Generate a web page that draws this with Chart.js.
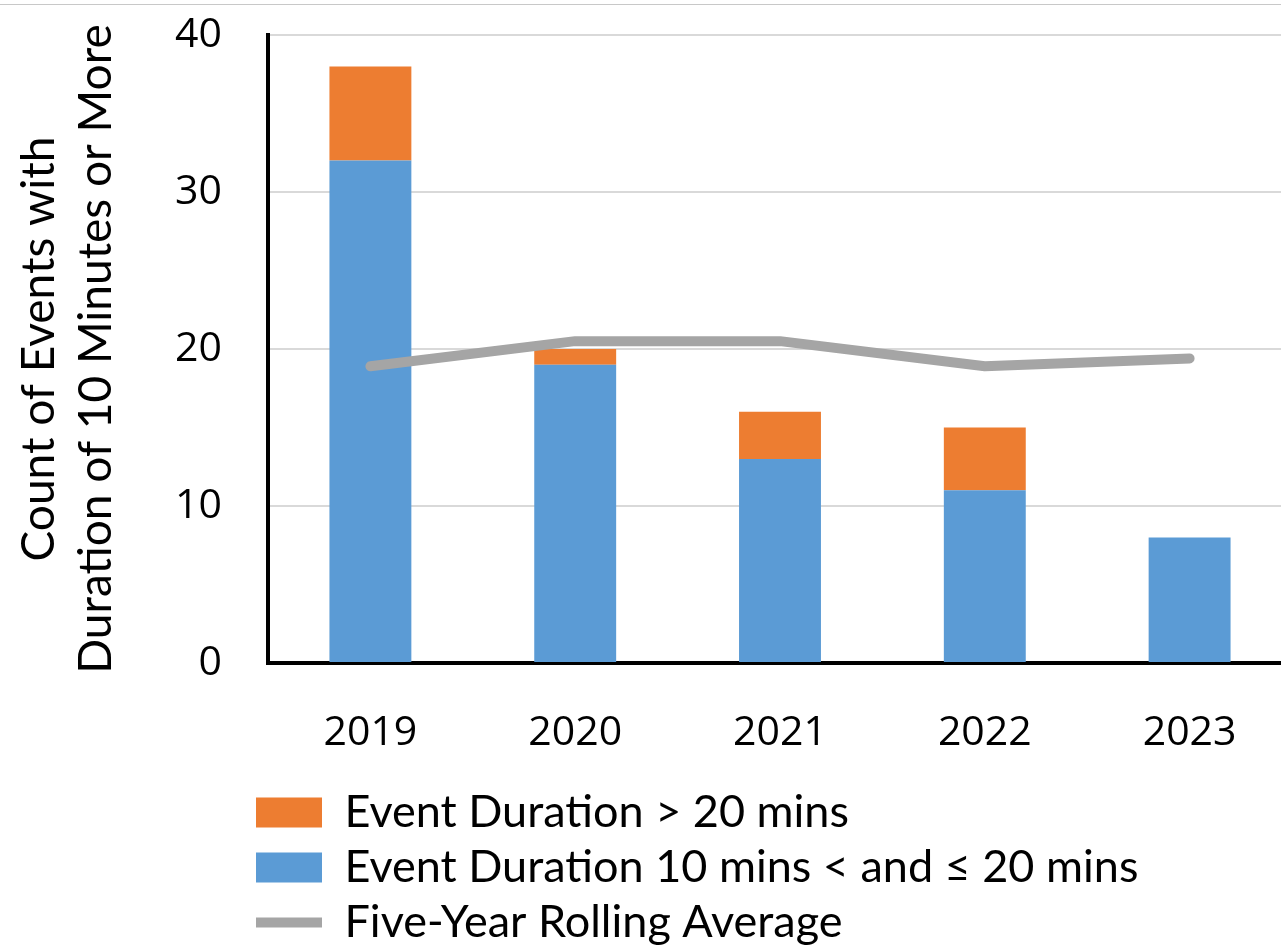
<!DOCTYPE html>
<html>
<head>
<meta charset="utf-8">
<script src="https://cdn.jsdelivr.net/npm/chart.js@4.4.0/dist/chart.umd.min.js"></script>
<style>
  html, body { margin: 0; padding: 0; background: #fff; overflow: hidden; }
  #frame { position: absolute; left: 0; top: 4px; width: 1281px; height: 1px; background: #c8c8c8; }
  #myChart { position: absolute; left: 0; top: 0; }
</style>
</head>
<body>
<canvas id="myChart" width="1292" height="955"></canvas>
<div id="frame"></div>
<script>
// data
const years = ['2019', '2020', '2021', '2022', '2023'];
const shortEvents = [32, 19, 13, 11, 8];   // 10 mins < and <= 20 mins
const longEvents = [6, 1, 3, 4, 0];        // > 20 mins
const rollingAvg = [18.9, 20.5, 20.5, 18.9, 19.4];
const yTicks = [0, 10, 20, 30, 40];

const tickFont = {family: 'Open Sans', size: 41};
const labelFont = {family: 'Lato', size: 45};

var ctx = document.getElementById('myChart').getContext('2d');

// move the legend so it starts under the y axis like the original
const legendShift = {
    id: 'legendShift',
    afterLayout(chart) {
        chart.legend.left = 246;
    }
};

var myChart = new Chart(ctx, {
    type: 'bar',
    data: {
        labels: years,
        datasets: [{
            label: 'Event Duration 10 mins < and \u2264 20 mins',
            data: shortEvents,
            backgroundColor: '#5b9bd5',
            borderWidth: 0,
            pointStyle: 'rect',
            stack: 'events',
            order: 1
        }, {
            label: 'Event Duration > 20 mins',
            data: longEvents,
            backgroundColor: '#ed7d31',
            borderWidth: 0,
            pointStyle: 'rect',
            stack: 'events',
            order: 2
        }, {
            type: 'line',
            label: 'Five-Year Rolling Average',
            data: rollingAvg,
            borderColor: '#a5a5a5',
            backgroundColor: '#a5a5a5',
            borderWidth: 10,
            borderCapStyle: 'round',
            borderJoinStyle: 'round',
            pointRadius: 0,
            pointHoverRadius: 0,
            pointStyle: 'line',
            tension: 0,
            stack: 'avg',
            order: 0
        }]
    },
    options: {
        responsive: false,
        animation: false,
        devicePixelRatio: 1,
        layout: {padding: {top: 35, left: 0, right: 0, bottom: 0}},
        datasets: {
            bar: {categoryPercentage: 1, barPercentage: 0.4}
        },
        plugins: {
            tooltip: {enabled: false},
            legend: {
                position: 'bottom',
                align: 'start',
                reverse: true,
                labels: {
                    usePointStyle: true,
                    pointStyleWidth: 66,
                    boxWidth: 66,
                    boxHeight: 30,
                    padding: 10,
                    color: '#000',
                    font: labelFont
                }
            }
        },
        scales: {
            x: {
                stacked: true,
                grid: {display: false, drawTicks: false},
                border: {display: true, color: '#000', width: 4},
                ticks: {color: '#000', font: tickFont, padding: 46},
                afterFit(scale) { scale.height = 117; }
            },
            y: {
                stacked: true,
                min: 0,
                max: 40,
                afterBuildTicks(scale) { scale.ticks = yTicks.map(v => ({value: v})); },
                grid: {color: '#d9d9d9', lineWidth: 2, drawTicks: false},
                border: {display: true, color: '#000', width: 4},
                ticks: {color: '#000', font: tickFont, padding: 46},
                title: {
                    display: true,
                    text: ['Count of Events with', 'Duration of 10 Minutes or More'],
                    color: '#000',
                    font: {family: 'Lato', size: 46, lineHeight: 1.24},
                    padding: {top: 11, bottom: 0}
                },
                afterFit(scale) {
                    scale.width = 268;
                    scale.paddingTop = 0;
                    scale.paddingBottom = 0;
                }
            }
        }
    },
    plugins: [legendShift]
});
</script>
</body>
</html>
